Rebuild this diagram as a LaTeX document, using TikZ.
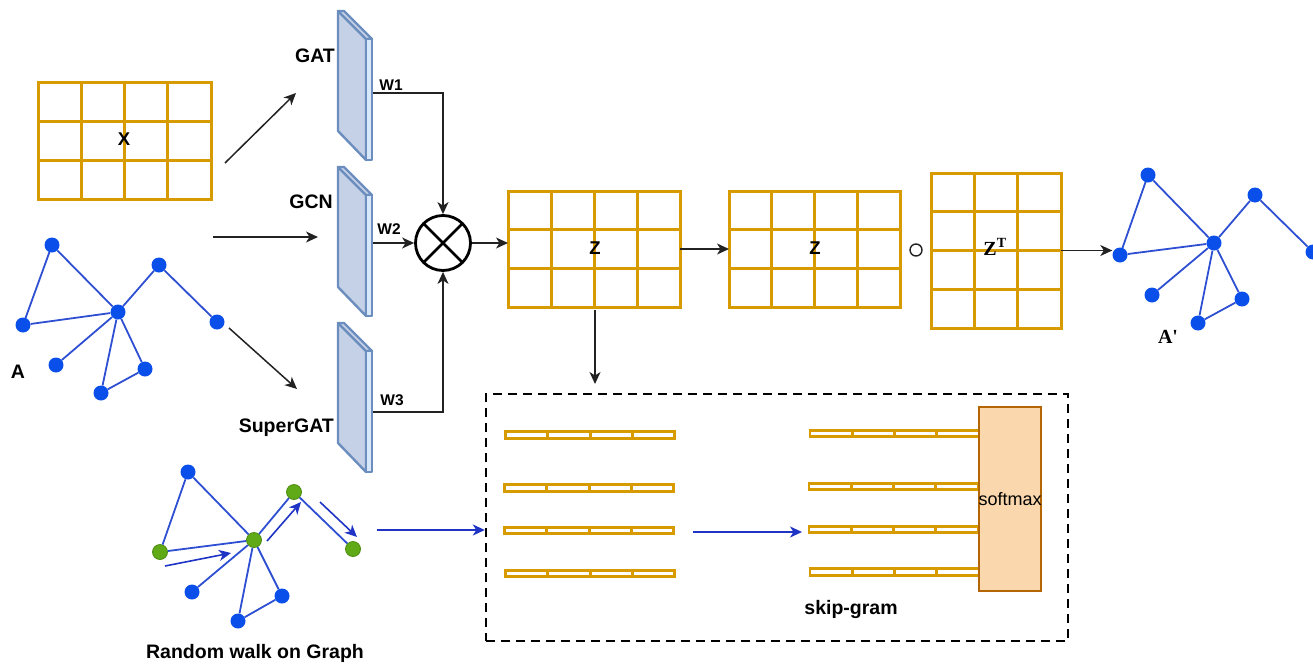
\documentclass[tikz,border=0pt]{standalone}
\usepackage{fontspec}
\setmainfont{Liberation Sans}
\newfontfamily\serifbf{Liberation Serif}
\usetikzlibrary{arrows.meta,calc}
\definecolor{matc}{HTML}{D79B00}
\definecolor{slabfront}{HTML}{C4D1E6}
\definecolor{slabside}{HTML}{DAE8FC}
\definecolor{slabline}{HTML}{6C8EBF}
\definecolor{gblue}{HTML}{0B4FEA}
\definecolor{gedgec}{HTML}{2E4FD2}
\definecolor{ggreen}{HTML}{60A917}
\definecolor{ggreenb}{HTML}{4D8C12}
\definecolor{walkc}{HTML}{1F33C4}
\definecolor{smfill}{HTML}{FAD7AC}
\definecolor{smline}{HTML}{B46504}
\definecolor{connc}{HTML}{222222}
\newcommand\vdiv[3]{\foreach \i in {#3}{\draw[matline] ($(#1.north west)!\i/#2!(#1.north east)$) -- ($(#1.south west)!\i/#2!(#1.south east)$);}}
\newcommand\hdiv[3]{\foreach \i in {#3}{\draw[matline] ($(#1.north west)!\i/#2!(#1.south west)$) -- ($(#1.north east)!\i/#2!(#1.south east)$);}}
\newcommand\slabshape[1]{%
  \draw[slabst, fill=slabfront] (338,#1) -- (366,#1+28) -- (366,#1+149) -- (338,#1+120) -- cycle;
  \draw[slabst, fill=slabfront] (338,#1) -- (344,#1) -- (372,#1+28) -- (366,#1+28) -- cycle;
  \draw[slabst, fill=slabside] (366,#1+28) -- (372,#1+28) -- (372,#1+149) -- (366,#1+149) -- cycle;}
\newcommand\vect[3]{%
  \node[vecbox, minimum width=169pt, minimum height=6.5pt] (#1) at (#2,#3) {};
  \vdiv{#1}{4}{1,2,3}}
\begin{document}
\begin{tikzpicture}[x=1pt,y=-1pt,
  matbox/.style={draw=matc, line width=3pt, outer sep=0pt, inner sep=0pt, fill=white},
  matline/.style={draw=matc, line width=3pt},
  vecbox/.style={draw=matc, line width=2.8pt, outer sep=0pt, inner sep=0pt, fill=white},
  slabst/.style={draw=slabline, line width=2.4pt, line join=round},
  lab/.style={inner sep=0pt, font=\fontsize{19.5}{21}\selectfont\bfseries},
  mlab/.style={inner sep=0pt, font=\fontsize{18.5}{20}\selectfont\bfseries},
  wlab/.style={inner sep=0pt, font=\fontsize{15.5}{18}\selectfont\bfseries},
  serlab/.style={inner sep=0pt, font=\fontsize{20}{22}\serifbf\bfseries},
  conn/.style={draw=connc, line width=1.5pt},
  arr/.style={conn, -{Stealth[length=12pt,width=11pt,inset=3.5pt]}},
  blarr/.style={draw=walkc, line width=1.6pt, -{Stealth[length=12pt,width=11pt,inset=3.5pt]}},
  gnode/.style={circle, fill=gblue, inner sep=0pt, minimum size=15pt},
  grnode/.style={circle, fill=ggreen, draw=ggreenb, line width=0.8pt, inner sep=0pt, minimum size=15pt},
  gedge/.style={draw=gedgec, line width=1.8pt}]
\useasboundingbox (0,0) rectangle (1313,664);
\clip (0,0) rectangle (1313,664);

% ---------- input matrix X ----------
\node[matbox, minimum width=173pt, minimum height=117pt] (X) at (124.5,140.5) {};
\vdiv{X}{4}{1,2,3}
\hdiv{X}{3}{1,2}
\node[mlab] (Xl) at (124,139) {X};

% ---------- graph A ----------
\draw[gedge] (52,245) coordinate (a1) -- (23,325) coordinate (a2);
\foreach \n/\x/\y in {a1/52/245,a2/23/325,a3/118/312,a4/159/265,a5/217/322,a6/56/365,a7/101/393,a8/145/369}
  \node[gnode] (\n) at (\x,\y) {};
\draw[gedge] (a1)--(a3) (a2)--(a3) (a3)--(a4) (a4)--(a5) (a3)--(a6) (a3)--(a7) (a3)--(a8) (a7)--(a8);
\node[lab] (Al) at (18,372) {A};

% ---------- input arrows ----------
\coordinate (x-from) at (225,163);
\coordinate (x-to) at (296,93);
\coordinate (g-from) at (213,237);
\coordinate (g-to) at (318,237);
\coordinate (s-from) at (229,328);
\coordinate (s-to) at (297,389);
\draw[arr] (x-from) -- (x-to);
\draw[arr] (g-from) -- (g-to);
\draw[arr] (s-from) -- (s-to);

% ---------- GNN layers ----------
\slabshape{11}
\slabshape{167}
\slabshape{323}
\node[lab, anchor=east] (GAT) at (335,56) {GAT};
\node[lab, anchor=east] (GCN) at (333,202) {GCN};
\node[lab, anchor=east] (SGAT) at (334,428) {SuperGAT};
\coordinate (gat-out) at (373,93);
\coordinate (gcn-out) at (373,243);
\coordinate (sgat-out) at (373,412);
\node[wlab] (W1) at (391,85) {W1};
\node[wlab] (W2) at (389,229) {W2};
\node[wlab] (W3) at (392,400) {W3};

% ---------- multiplication ----------
\node[circle, draw=black, line width=2.8pt, minimum size=55pt, inner sep=0pt,
  path picture={\draw[line width=2.8pt] (path picture bounding box.north west) -- (path picture bounding box.south east)
                (path picture bounding box.north east) -- (path picture bounding box.south west);}] (mul) at (443,243) {};
\draw[arr] (gat-out) -| (mul.north);
\draw[arr] (gcn-out) -- (mul.west);
\draw[arr] (sgat-out) -| (mul.south);

% ---------- Z matrices ----------
\node[matbox, minimum width=172pt, minimum height=116pt] (Z1) at (594,249) {};
\vdiv{Z1}{4}{1,2,3}
\hdiv{Z1}{3}{1,2}
\node[mlab] (Z1l) at (595,248) {Z};
\node[matbox, minimum width=171pt, minimum height=116pt] (Z2) at (814.5,249) {};
\vdiv{Z2}{4}{1,2,3}
\hdiv{Z2}{3}{1,2}
\node[mlab] (Z2l) at (815,248) {Z};
\draw[arr] (mul.east) -- (mul.east -| Z1.west);
\draw[arr] (Z1.east) -- (Z2.west);

\node[circle, draw=connc, line width=1.4pt, minimum size=12pt, inner sep=0pt] (hada) at (916,250) {};

\node[matbox, minimum width=130pt, minimum height=155pt] (ZT) at (996,250.5) {};
\vdiv{ZT}{3}{1,2}
\hdiv{ZT}{4}{1,2,3}
\node[serlab] (ZTl) at (995,247) {Z\textsuperscript{T}};

% ---------- graph A' ----------
\draw[gedge] (1148,175) coordinate (m1) -- (1120,255) coordinate (m2);
\foreach \n/\x/\y in {m1/1148/175,m2/1120/255,m3/1214/243,m4/1255/195,m5/1313/252,m6/1152/295,m7/1198/323,m8/1242/299}
  \node[gnode] (\n) at (\x,\y) {};
\draw[gedge] (m1)--(m3) (m2)--(m3) (m3)--(m4) (m4)--(m5) (m3)--(m6) (m3)--(m7) (m3)--(m8) (m7)--(m8);
\node[serlab] (Apl) at (1168,337) {A'};
\draw[arr] (ZT.east) -- (ZT.east -| m2.west);

% ---------- skip-gram box ----------
\node[draw=black, line width=2.4pt, dash pattern=on 9pt off 6pt, minimum width=582pt, minimum height=247pt, inner sep=0pt] (SG) at (777,517.5) {};
\coordinate (zdown) at (595,310);
\draw[arr] (zdown) -- (595,384);

\vect{l1}{590}{435}
\vect{l2}{589}{488}
\vect{l3}{589}{530.5}
\vect{l4}{590}{573.5}
\vect{r1v}{894.5}{433.5}
\vect{r2v}{893.5}{486.5}
\vect{r3v}{893.5}{529.5}
\vect{r4v}{894.5}{572}
\node[draw=smline, fill=smfill, line width=2.4pt, minimum width=62pt, minimum height=184pt, inner sep=0pt] (soft) at (1010,499) {};
\node[inner sep=0pt, font=\fontsize{18}{20}\selectfont] (softl) at (1010,499) {softmax};
\node[lab] (skip) at (851,609) {skip-gram};
\coordinate (sg-a) at (693,532);
\coordinate (sg-b) at (802,532);
\draw[blarr] (sg-a) -- (sg-b);

% ---------- random walk graph ----------
\node[gnode] (r1) at (188,472) {};
\node[grnode] (r2) at (160,552) {};
\node[grnode] (r3) at (254,540) {};
\node[grnode] (r4) at (294,492) {};
\node[grnode] (r5) at (353,549) {};
\node[gnode] (r6) at (192,592) {};
\node[gnode] (r7) at (238,621) {};
\node[gnode] (r8) at (282,596) {};
\draw[gedge] (r1)--(r2) (r1)--(r3) (r2)--(r3) (r3)--(r4) (r4)--(r5) (r3)--(r6) (r3)--(r7) (r3)--(r8) (r7)--(r8);
\coordinate (w1s) at (165,566);
\coordinate (w1e) at (231,553);
\coordinate (w2s) at (267,541);
\coordinate (w2e) at (301,502);
\coordinate (w3s) at (320,502);
\coordinate (w3e) at (357,537);
\draw[blarr] (w1s) -- (w1e);
\draw[blarr] (w2s) -- (w2e);
\draw[blarr] (w3s) -- (w3e);
\node[lab] (rwl) at (255,653) {Random walk on Graph};
\coordinate (rw-out) at (377,530);
\draw[blarr] (rw-out) -- (rw-out -| SG.west);
\end{tikzpicture}
\end{document}
